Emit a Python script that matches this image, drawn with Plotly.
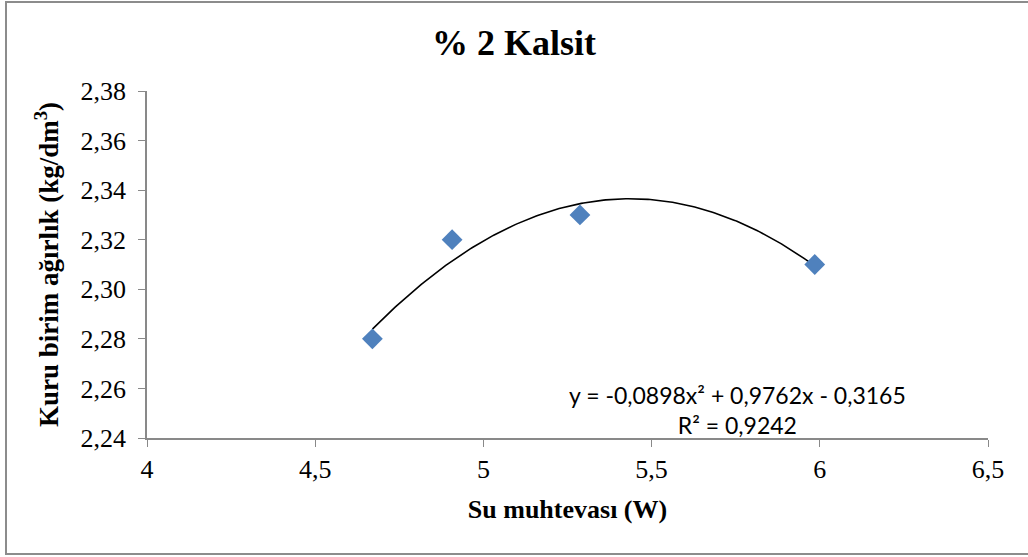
import numpy as np
import plotly.graph_objects as go

# Measured points
water_content = [4.67, 4.907, 5.287, 5.985]
dry_density = [2.28, 2.32, 2.33, 2.31]

# Second-order trendline coefficients (a*x^2 + b*x + c) and fit quality
trend_coef = [-0.0898, 0.9762, -0.3165]
r_squared = 0.9242

x_ticks = [4, 4.5, 5, 5.5, 6, 6.5]
y_ticks = [2.24, 2.26, 2.28, 2.30, 2.32, 2.34, 2.36, 2.38]

W, H = 1028, 557
L, R, T, B = 147, 40, 91, 119

xs = np.linspace(min(water_content), max(water_content), 200)
ys = np.polyval(trend_coef, xs)

serif = "Times New Roman, serif"
axis_grey = "#898989"

fig = go.Figure()
fig.add_trace(go.Scatter(
    x=xs, y=ys, mode="lines",
    line=dict(color="black", width=1.6),
    hoverinfo="skip", showlegend=False,
))
fig.add_trace(go.Scatter(
    x=water_content, y=dry_density, mode="markers",
    marker=dict(symbol="diamond", size=16, color="#4F81BD", line=dict(width=0)),
    showlegend=False,
))

def fmt(v):
    return f"{v:.4f}".replace(".", ",")

eq_text = (f"y = {fmt(trend_coef[0])}x² + {fmt(trend_coef[1])}x - {fmt(abs(trend_coef[2]))}"
           f"<br>R² = {fmt(r_squared)}")
fig.add_annotation(
    x=5.754, y=2.2515, xref="x", yref="y",
    text=eq_text, showarrow=False, align="center",
    font=dict(family="Lato", size=23, color="black"),
)

# Chart-area frame
pw, ph = W - L - R, H - T - B
fig.add_shape(
    type="rect", xref="paper", yref="paper",
    x0=(6 - L) / pw, x1=(1032 - L) / pw,
    y0=(H - B - 554) / ph, y1=(H - B - 2) / ph,
    line=dict(color="#8c8c8c", width=2), fillcolor="rgba(0,0,0,0)", layer="below",
)

fig.update_layout(
    width=W, height=H,
    margin=dict(l=L, r=R, t=T, b=B),
    paper_bgcolor="white", plot_bgcolor="white",
    separators=",.",
    font=dict(family=serif, color="black"),
    title=dict(text="<b>% 2 Kalsit</b>", x=0.5, xanchor="center",
               y=(H - 42) / H, yanchor="middle",
               font=dict(family=serif, size=36, color="black")),
    xaxis=dict(
        range=[4, 6.5], tickvals=x_ticks, ticks="outside", ticklen=7,
        tickcolor=axis_grey, showline=True, linecolor=axis_grey, linewidth=1.5,
        showgrid=False, zeroline=False,
        tickfont=dict(family=serif, size=26, color="black"),
        title=dict(text="<b>Su muhtevası (W)</b>", standoff=17,
                   font=dict(family=serif, size=26, color="black")),
    ),
    yaxis=dict(
        range=[2.24, 2.38], tickvals=y_ticks, tickformat=".2f", ticks="outside",
        ticklen=7, tickcolor=axis_grey, showline=True, linecolor=axis_grey,
        linewidth=1.5, showgrid=False, zeroline=False, ticklabelstandoff=7,
        tickfont=dict(family=serif, size=26, color="black"),
        title=dict(text="<b>Kuru birim ağırlık (kg/dm<sup>3</sup>)</b>", standoff=14,
                   font=dict(family=serif, size=27, color="black")),
    ),
)

fig.write_html("out.html")
